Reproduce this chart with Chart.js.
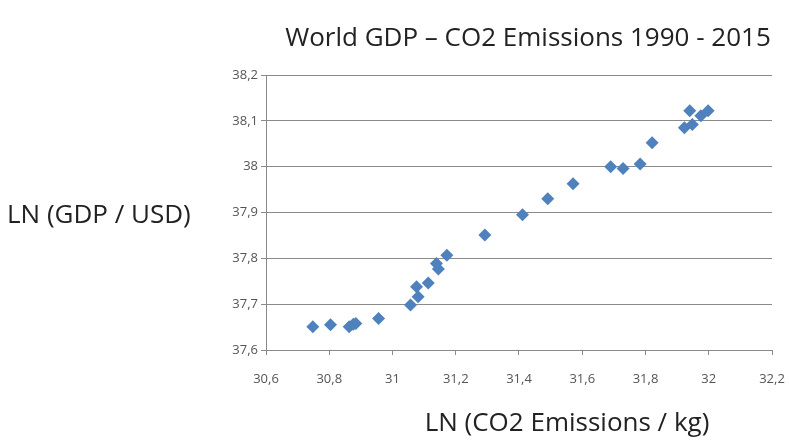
<!DOCTYPE html>
<html>
<head>
<meta charset="utf-8">
<style>
    html, body { margin: 0; padding: 0; background: #fff; }
    #wrap { width: 789px; height: 444px; position: relative; }
</style>
</head>
<body>
<div id="wrap"><canvas id="gdpChart" width="789" height="444"></canvas></div>

<script src="https://cdn.jsdelivr.net/npm/chart.js"></script>
<script>
// LN(CO2 emissions / kg) per year
const co2Ln = [30.748, 30.804, 30.863, 30.876, 30.884, 30.956, 31.057, 31.081, 31.076,
               31.113, 31.139, 31.145, 31.172, 31.292, 31.411, 31.491, 31.571, 31.690,
               31.729, 31.783, 31.821, 31.923, 31.948, 31.940, 31.975, 31.998];
// LN(GDP / USD)
const gdpLn = [37.651, 37.655, 37.651, 37.656, 37.658, 37.669, 37.698, 37.716, 37.738,
               37.746, 37.789, 37.777, 37.807, 37.851, 37.895, 37.930, 37.963, 38.000,
               37.996, 38.006, 38.052, 38.085, 38.092, 38.122, 38.111, 38.122];

const xTicks = [30.6, 30.8, 31, 31.2, 31.4, 31.6, 31.8, 32, 32.2];
const yTicks = [37.6, 37.7, 37.8, 37.9, 38, 38.1, 38.2];

const chartTitle = 'World GDP \u2013 CO2 Emissions 1990 - 2015';
const xTitle = 'LN (CO2 Emissions / kg)';
const yTitle = 'LN (GDP / USD)';

const points = co2Ln.map((x, i) => ({ x: x, y: gdpLn[i] }));

function commaNum(v) {
    return String(Math.round(v * 10) / 10).replace('.', ',');
}

// titles are drawn flat (not rotated) like in the original
const titlesPlugin = {
    id: 'titles',
    afterDraw(chart) {
        const ctx = chart.ctx;
        ctx.save();
        ctx.fillStyle = '#222';
        ctx.font = '26px "Open Sans"';
        ctx.textAlign = 'center';
        ctx.textBaseline = 'middle';
        ctx.fillText(chartTitle, 528, 39);
        ctx.fillText(xTitle, 567, 424);
        ctx.textAlign = 'left';
        ctx.fillText(yTitle, 7, 216);
        ctx.restore();
    }
};

new Chart(document.getElementById('gdpChart'), {
    type: 'scatter',
    data: {
        datasets: [{
            data: points,
            pointStyle: 'rectRot',
            pointRadius: 6.5,
            pointHoverRadius: 6.5,
            backgroundColor: '#4f81bd',
            borderColor: '#4f81bd',
            borderWidth: 0
        }]
    },
    options: {
        responsive: false,
        animation: false,
        layout: {
            padding: { left: 206, right: 17, top: 75, bottom: 54 }
        },
        plugins: {
            legend: { display: false },
            tooltip: { enabled: false }
        },
        scales: {
            x: {
                type: 'linear',
                min: 30.6,
                max: 32.2,
                afterBuildTicks: function(scale) {
                    scale.ticks = xTicks.map(v => ({ value: v }));
                },
                afterFit: function(scale) {
                    scale.height = 40;
                    scale.paddingLeft = 0;
                    scale.paddingRight = 0;
                },
                grid: {
                    display: true,
                    drawOnChartArea: false,
                    drawTicks: true,
                    tickLength: 5,
                    color: '#8a8a8a'
                },
                border: { color: '#8a8a8a' },
                ticks: {
                    padding: 16,
                    color: '#555',
                    font: { family: 'Open Sans', size: 13 },
                    maxRotation: 0,
                    autoSkip: false,
                    callback: v => commaNum(v)
                }
            },
            y: {
                type: 'linear',
                min: 37.6,
                max: 38.2,
                afterBuildTicks: function(scale) {
                    scale.ticks = yTicks.map(v => ({ value: v }));
                },
                afterFit: function(scale) {
                    scale.width = 60;
                    scale.paddingTop = 0;
                    scale.paddingBottom = 0;
                },
                grid: {
                    color: '#8a8a8a',
                    tickLength: 5
                },
                border: { color: '#8a8a8a' },
                ticks: {
                    padding: 3,
                    color: '#555',
                    font: { family: 'Open Sans', size: 13 },
                    autoSkip: false,
                    callback: v => commaNum(v)
                }
            }
        }
    },
    plugins: [titlesPlugin]
});
</script>
</body>
</html>
